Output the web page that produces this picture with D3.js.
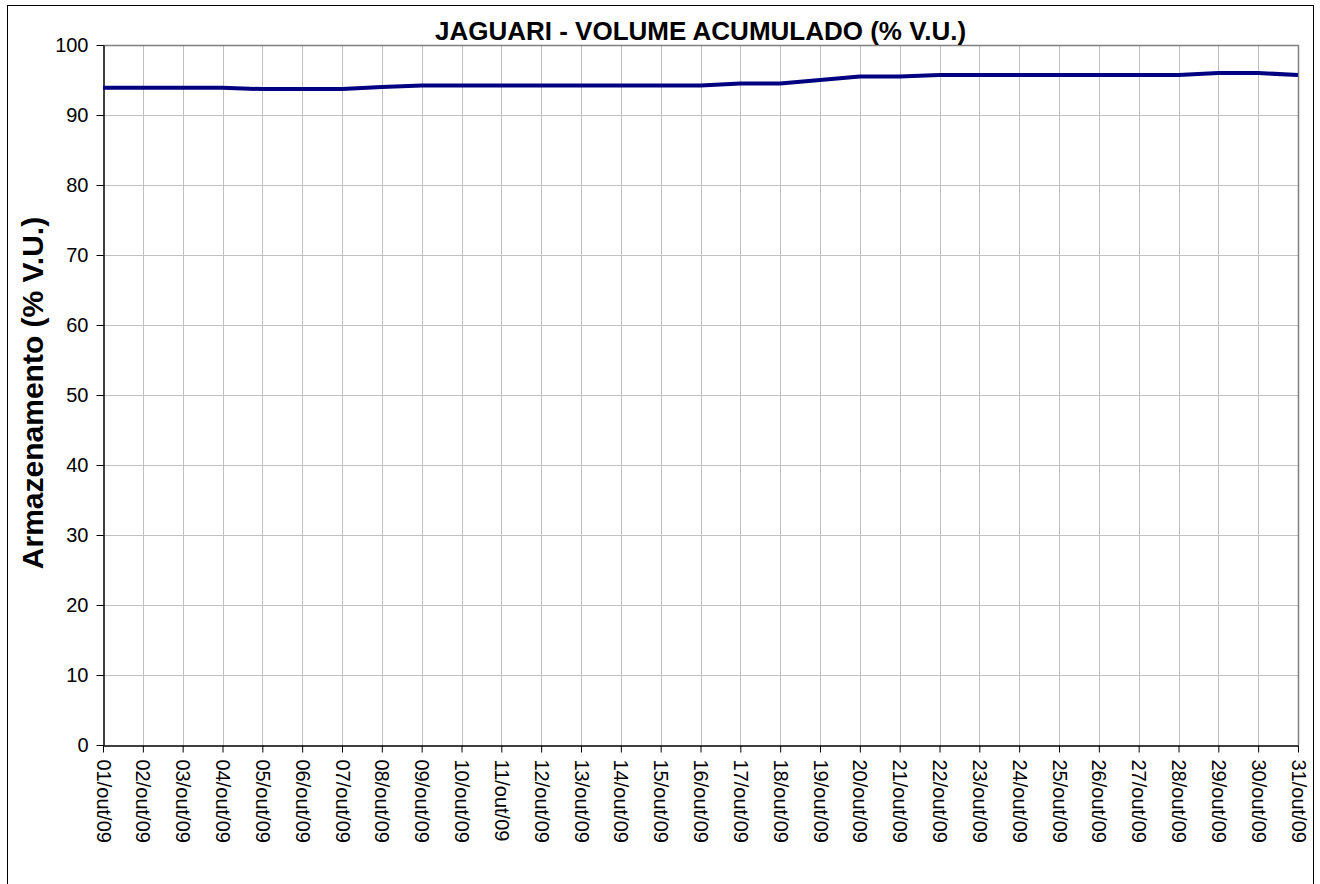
<!DOCTYPE html>
<html>
<head>
<meta charset="utf-8">
<script src="https://cdn.jsdelivr.net/npm/d3@7"></script>
<style>
  body { margin: 0; background: #fff; }
  svg { display: block; font-family: Arial, "Liberation Sans", sans-serif; }
</style>
</head>
<body>
<svg id="chart" width="1320" height="884"></svg>
<script>
// dias de outubro/2009 e armazenamento
var days = ["01/out/09","02/out/09","03/out/09","04/out/09","05/out/09","06/out/09","07/out/09","08/out/09",
	"09/out/09","10/out/09","11/out/09","12/out/09","13/out/09","14/out/09","15/out/09","16/out/09",
	"17/out/09","18/out/09","19/out/09","20/out/09","21/out/09","22/out/09","23/out/09","24/out/09",
	"25/out/09","26/out/09","27/out/09","28/out/09","29/out/09","30/out/09","31/out/09"];

var volume = [93.9, 93.9, 93.9, 93.9, 93.7, 93.7, 93.7, 94.0,
	94.2, 94.2, 94.2, 94.2, 94.2, 94.2, 94.2, 94.2,
	94.5, 94.5, 95.0, 95.5, 95.5, 95.7, 95.7, 95.7,
	95.7, 95.7, 95.7, 95.7, 96.0, 96.0, 95.7];

var yTicks = [0, 10, 20, 30, 40, 50, 60, 70, 80, 90, 100];

var titleText = "JAGUARI - VOLUME ACUMULADO (% V.U.)",
	yLabelText = "Armazenamento (% V.U.)";

var margin = {left: 103, top: 45, right: 1298, bottom: 745};

var svg = d3.select("#chart");

// moldura externa
svg.append("rect")
	.attr("x", 7.5).attr("y", 5.5)
	.attr("width", 1306).attr("height", 900)
	.attr("fill", "none").attr("stroke", "#000").attr("stroke-width", 1);

var x = d3.scalePoint().domain(days).range([margin.left, margin.right]);
var y = d3.scaleLinear().domain([0, 100]).range([margin.bottom, margin.top]);

// grades
svg.append("g").selectAll("line.hgrid").data(yTicks.slice(1)).enter()
	.append("line")
	.attr("class", "hgrid")
	.attr("x1", margin.left).attr("x2", margin.right)
	.attr("y1", function(d){ return Math.round(y(d)) + 0.5; })
	.attr("y2", function(d){ return Math.round(y(d)) + 0.5; })
	.attr("stroke", "#c0c0c0");

svg.append("g").selectAll("line.vgrid").data(days.slice(1)).enter()
	.append("line")
	.attr("class", "vgrid")
	.attr("y1", margin.top).attr("y2", margin.bottom)
	.attr("x1", function(d){ return Math.round(x(d)) + 0.5; })
	.attr("x2", function(d){ return Math.round(x(d)) + 0.5; })
	.attr("stroke", "#c0c0c0");

// borda superior e direita da area do grafico
svg.append("path")
	.attr("d", "M" + margin.left + "," + (margin.top + 0.5) + "H" + (margin.right + 0.5) + "V" + margin.bottom)
	.attr("fill", "none").attr("stroke", "#808080").attr("stroke-width", 1.5);

// eixo Y
var yAxis = svg.append("g")
	.attr("transform", "translate(" + (margin.left + 0.5) + ",0)")
	.call(d3.axisLeft(y).tickValues(yTicks).tickSize(7).tickPadding(8).tickSizeOuter(0));
yAxis.select(".domain").attr("stroke", "#000").attr("stroke-width", 1.5);
yAxis.selectAll(".tick line").attr("stroke", "#000");
yAxis.selectAll(".tick text")
	.attr("font-size", "20px").attr("fill", "#000")
	.attr("font-family", "Arial, 'Liberation Sans', sans-serif");

// eixo X
var xAxis = svg.append("g")
	.attr("transform", "translate(0," + (margin.bottom + 0.5) + ")")
	.call(d3.axisBottom(x).tickSize(7).tickSizeOuter(0));
xAxis.select(".domain").attr("stroke", "#000").attr("stroke-width", 1.5);
xAxis.selectAll(".tick line").attr("stroke", "#000");
xAxis.selectAll(".tick text")
	.attr("font-size", "20px").attr("fill", "#000")
	.attr("font-family", "Arial, 'Liberation Sans', sans-serif")
	.attr("text-anchor", "start")
	.attr("transform", "rotate(90)")
	.attr("x", 14)
	.attr("y", 0)
	.attr("dy", "0.35em");

// serie
var line = d3.line()
	.x(function(d, i){ return x(days[i]); })
	.y(function(d){ return y(d); });

svg.append("path")
	.datum(volume)
	.attr("d", line)
	.attr("fill", "none")
	.attr("stroke", "#000080")
	.attr("stroke-width", 4)
	.attr("stroke-linejoin", "round");

// titulos
svg.append("text")
	.attr("x", (margin.left + margin.right) / 2)
	.attr("y", 40)
	.attr("text-anchor", "middle")
	.attr("font-size", "26px")
	.attr("font-weight", "bold")
	.text(titleText);

svg.append("text")
	.attr("transform", "translate(32," + ((margin.top + margin.bottom) / 2 - 2) + ") rotate(-90)")
	.attr("text-anchor", "middle")
	.attr("dy", "0.35em")
	.attr("font-size", "30px")
	.attr("font-weight", "bold")
	.text(yLabelText);
</script>
</body>
</html>
